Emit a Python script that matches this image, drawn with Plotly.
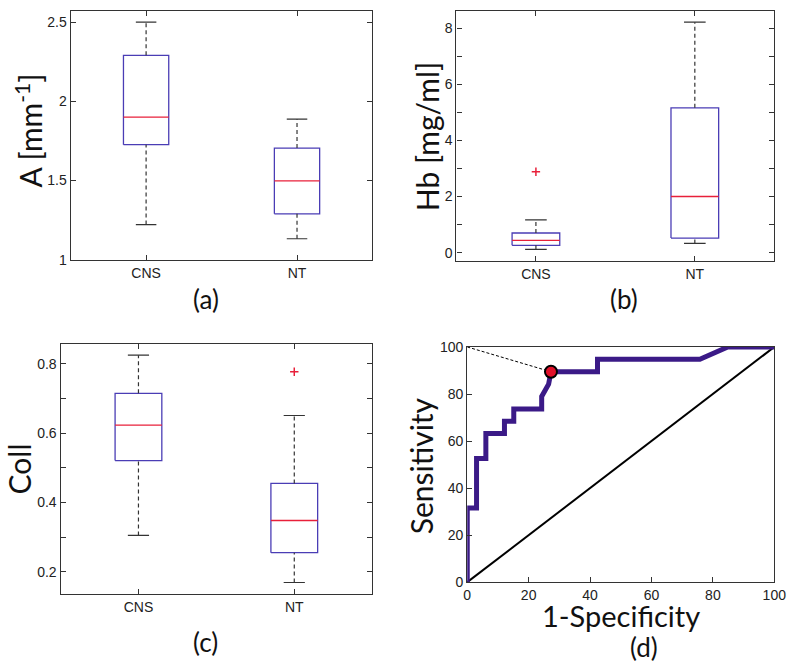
import plotly.graph_objects as go

W, H = 800, 667

# ---------------- data ----------------
groups = ["CNS", "NT"]
# panel (a): A [mm^-1]
a_lower = [1.222, 1.133]
a_q1 = [1.726, 1.290]
a_med = [1.900, 1.498]
a_q3 = [2.290, 1.705]
a_upper = [2.500, 1.887]

# panel (b): Hb [mg/ml]
b_lower = [0.12, 0.33]
b_q1 = [0.26, 0.52]
b_med = [0.44, 2.00]
b_q3 = [0.70, 5.16]
b_upper = [1.17, 8.21]
b_out_x = ["CNS"]
b_out_y = [2.88]

# panel (c): Coll
c_lower = [0.305, 0.169]
c_q1 = [0.521, 0.255]
c_med = [0.623, 0.348]
c_q3 = [0.715, 0.455]
c_upper = [0.825, 0.651]
c_out_x = ["NT"]
c_out_y = [0.777]

# panel (d): ROC curve (1-Specificity, Sensitivity), in %
roc_fpr = [0, 0, 3.03, 3.03, 6.06, 6.06, 12.12, 12.12, 15.15, 15.15, 24.24, 24.24,
           26.5, 27.27, 42.42, 42.42, 75.76, 84.85, 100]
roc_tpr = [0, 31.58, 31.58, 52.63, 52.63, 63.16, 63.16, 68.42, 68.42, 73.68, 73.68,
           78.95, 84.21, 89.47, 89.47, 94.74, 94.74, 100, 100]
opt_fpr, opt_tpr = 27.27, 89.47
chance = [0, 100]
ticks_d = [0, 20, 40, 60, 80, 100]

# ---------------- style ----------------
BOX_C = "#4a3db5"
MED_C = "#e8203a"
WHISK_C = "#333333"
AX_C = "#333333"
ROC_C = "#3b1a87"
TICK_FONT = dict(family="Liberation Sans, Arial, sans-serif", size=14, color="#222")
TITLE_FAMILY = "Lato, Open Sans, sans-serif"

fig = go.Figure()


def px(x, y):
    return x / W, 1 - y / H


def dom(x0, y0, x1, y1):
    return [x0 / W, x1 / W], [1 - y1 / H, 1 - y0 / H]


def add_boxes(xa, ya, lower, q1, med, q3, upper):
    hw, cw = 0.15, 0.068
    for i in range(len(groups)):
        c = i + 1
        fig.add_trace(go.Scatter(x=[c - hw, c + hw, c + hw, c - hw, c - hw],
                                 y=[q1[i], q1[i], q3[i], q3[i], q1[i]],
                                 mode="lines", line=dict(color=BOX_C, width=1.3),
                                 xaxis=xa, yaxis=ya, showlegend=False, hoverinfo="skip"))
        for a, b in [(q3[i], upper[i]), (lower[i], q1[i])]:
            fig.add_trace(go.Scatter(x=[c, c], y=[a, b], mode="lines",
                                     line=dict(color=WHISK_C, width=1.2, dash="4px,3px"),
                                     xaxis=xa, yaxis=ya, showlegend=False, hoverinfo="skip"))
        for v in (upper[i], lower[i]):
            fig.add_trace(go.Scatter(x=[c - cw, c + cw], y=[v, v], mode="lines",
                                     line=dict(color=WHISK_C, width=1.2),
                                     xaxis=xa, yaxis=ya, showlegend=False, hoverinfo="skip"))
        fig.add_trace(go.Scatter(x=[c - hw, c + hw], y=[med[i], med[i]], mode="lines",
                                 line=dict(color=MED_C, width=1.3),
                                 xaxis=xa, yaxis=ya, showlegend=False, hoverinfo="skip"))


def add_outliers(xa, ya, ox, oy):
    fig.add_trace(go.Scatter(x=[groups.index(g) + 1 for g in ox], y=oy, mode="markers",
                             marker=dict(symbol="cross-thin", size=6,
                                         line=dict(color=MED_C, width=1.5)),
                             xaxis=xa, yaxis=ya, showlegend=False, hoverinfo="skip"))


add_boxes("x", "y", a_lower, a_q1, a_med, a_q3, a_upper)
add_boxes("x2", "y2", b_lower, b_q1, b_med, b_q3, b_upper)
add_outliers("x2", "y2", b_out_x, b_out_y)
add_boxes("x3", "y3", c_lower, c_q1, c_med, c_q3, c_upper)
add_outliers("x3", "y3", c_out_x, c_out_y)

# ROC panel
fig.add_trace(go.Scatter(x=chance, y=chance, mode="lines", line=dict(color="black", width=2),
                         xaxis="x4", yaxis="y4", showlegend=False, hoverinfo="skip"))
fig.add_trace(go.Scatter(x=[0, opt_fpr], y=[100, opt_tpr], mode="lines",
                         line=dict(color="black", width=1, dash="3px,2px"),
                         xaxis="x4", yaxis="y4", showlegend=False, hoverinfo="skip"))
fig.add_trace(go.Scatter(x=roc_fpr, y=roc_tpr, mode="lines",
                         line=dict(color=ROC_C, width=5),
                         xaxis="x4", yaxis="y4", showlegend=False, hoverinfo="skip"))
fig.add_trace(go.Scatter(x=[opt_fpr], y=[opt_tpr], mode="markers",
                         marker=dict(color="#e0102a", size=12, line=dict(color="black", width=2)),
                         xaxis="x4", yaxis="y4", showlegend=False, hoverinfo="skip"))

common = dict(showline=True, linecolor=AX_C, linewidth=1.2, mirror="allticks",
              ticks="inside", ticklen=5, tickcolor=AX_C, showgrid=False, zeroline=False,
              tickfont=TICK_FONT, ticklabeloverflow="allow")
cat_x = dict(common, tickmode="array", tickvals=[1, 2], ticktext=groups, range=[0.5, 2.5])

dA = dom(68, 3, 376, 258)
dB = dom(461.7, 3.3, 786, 259)
dC = dom(57.7, 344, 375.7, 600)
dD = dom(472.7, 347.3, 786, 588.3)

fig.update_layout(
    width=W, height=H, margin=dict(l=0, r=0, t=0, b=0),
    paper_bgcolor="white", plot_bgcolor="white",
    xaxis=dict(cat_x, domain=dA[0], anchor="y"),
    yaxis=dict(common, domain=dA[1], anchor="x", range=[1, 2.57],
               tickvals=[1, 1.5, 2, 2.5], ticktext=["1", "1.5", "2", "2.5"]),
    xaxis2=dict(cat_x, domain=dB[0], anchor="y2"),
    yaxis2=dict(common, domain=dB[1], anchor="x2", range=[-0.29, 8.6],
                tickvals=[0, 2, 4, 6, 8],
                minor=dict(tickvals=[1, 3, 5, 7], ticks="inside", ticklen=5, tickcolor=AX_C)),
    xaxis3=dict(cat_x, domain=dC[0], anchor="y3"),
    yaxis3=dict(common, domain=dC[1], anchor="x3", range=[0.137, 0.858],
                tickvals=[0.2, 0.4, 0.6, 0.8],
                minor=dict(tickvals=[0.3, 0.5, 0.7], ticks="inside", ticklen=5, tickcolor=AX_C)),
    xaxis4=dict(common, domain=dD[0], anchor="y4", range=[0, 100], tickvals=ticks_d,
                mirror=True),
    yaxis4=dict(common, domain=dD[1], anchor="x4", range=[0, 100], tickvals=ticks_d,
                mirror=True),
)

labels = [
    ("A [mm<sup>-1</sup>]", 25, 126, 30, -90),
    ("Hb [mg/ml]", 431, 132, 30, -90),
    ("Coll", 15, 472, 30, -90),
    ("Sensitivity", 425, 469, 30, -90),
    ("1-Specificity", 630, 622, 29, 0),
    ("(a)", 206, 298, 26, 0),
    ("(b)", 633, 298, 26, 0),
    ("(c)", 206, 650, 26, 0),
    ("(d)", 653, 655, 26, 0),
]
for text, x, y, size, ang in labels:
    xx, yy = px(x, y)
    fig.add_annotation(text=text, x=xx, y=yy, xref="paper", yref="paper",
                       xanchor="center", yanchor="middle", showarrow=False, textangle=ang,
                       font=dict(family=TITLE_FAMILY, size=size, color="#111"))

fig.write_html("out.html", post_script="document.body.style.margin='0';",
               config={"displayModeBar": False})
